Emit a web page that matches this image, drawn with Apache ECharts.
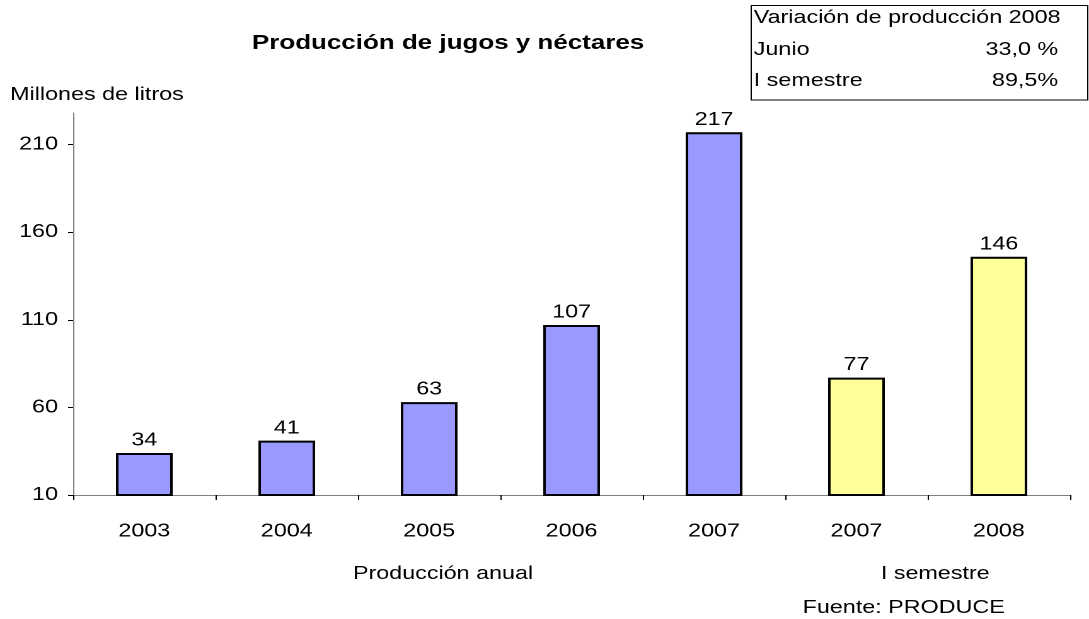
<!DOCTYPE html>
<html><head><meta charset="utf-8">
<script src="https://cdn.jsdelivr.net/npm/echarts@6/dist/echarts.min.js"></script>
<style>
html,body{margin:0;padding:0;background:#fff;overflow:hidden}
#c{width:864px;height:619px;transform:scaleX(1.2604167);transform-origin:0 0}
</style>
</head><body><div id="c"></div>
<script>
const categories = ['2003','2004','2005','2006','2007','2007','2008'];
const values = [34, 41, 63, 107, 217, 77, 146];
const groups = ['anual','anual','anual','anual','anual','semestre','semestre'];
const yTicks = [10, 60, 110, 160, 210];
const boxRows = [['Variación de producción 2008',''],['Junio','33,0 %'],['I semestre','89,5%']];

const FONT = '"Liberation Sans", Arial, sans-serif';
const FS = 18.5;
const colorFor = g => g === 'anual' ? '#9999FF' : '#FFFF99';

const chart = echarts.init(document.getElementById('c'), null, {renderer:'canvas', devicePixelRatio:2});
const graphics = [
  {type:'rect', shape:{x:596,y:5.5,width:267,height:94.5}, style:{fill:'#fff',stroke:'#000',lineWidth:1}, z:10}
];
const rowY = [18, 50, 81];
boxRows.forEach((r,i)=>{
  graphics.push({type:'text', x:598, y:rowY[i], style:{text:r[0], font:FS+'px '+FONT, fill:'#000', textVerticalAlign:'middle'}, z:11});
  if (r[1]) graphics.push({type:'text', x:839.5, y:rowY[i], style:{text:r[1], font:FS+'px '+FONT, fill:'#000', textAlign:'right', textVerticalAlign:'middle'}, z:11});
});
graphics.push({type:'text', x:351.5, y:574, style:{text:'Producción anual', font:FS+'px '+FONT, fill:'#000', textAlign:'center', textVerticalAlign:'middle'}});
graphics.push({type:'text', x:742, y:574, style:{text:'I semestre', font:FS+'px '+FONT, fill:'#000', textAlign:'center', textVerticalAlign:'middle'}});
graphics.push({type:'text', x:717, y:608, style:{text:'Fuente: PRODUCE', font:FS+'px '+FONT, fill:'#000', textAlign:'center', textVerticalAlign:'middle'}});
graphics.push({type:'text', x:8, y:95, style:{text:'Millones de litros', font:FS+'px '+FONT, fill:'#000', textVerticalAlign:'middle'}});

chart.setOption({
  animation:false,
  title:{text:'Producción de jugos y néctares', left:350.5, textAlign:'center', top:28,
    textStyle:{fontFamily:FONT, fontSize:20.6, fontWeight:'bold', color:'#000'}},
  grid:{left:58, right:15, top:113, bottom:124},
  xAxis:{type:'category', data:categories,
    axisLine:{lineStyle:{color:'#808080', width:1}},
    axisTick:{show:true, alignWithLabel:false, length:5, lineStyle:{color:'#000'}},
    axisLabel:{fontFamily:FONT, fontSize:FS, color:'#000', margin:27}},
  yAxis:{type:'value', min:10, max:228,
    axisLine:{show:true, lineStyle:{color:'#808080', width:1}},
    axisTick:{show:true, length:4, lineStyle:{color:'#000'}, customValues:yTicks},
    axisLabel:{fontFamily:FONT, fontSize:FS, color:'#000', margin:12, customValues:yTicks},
    splitLine:{show:false}},
  series:[{type:'bar', barWidth:45,
    data: values.map((v,i)=>({value:v, itemStyle:{color:colorFor(groups[i])}})),
    itemStyle:{borderColor:'#000', borderWidth:2},
    label:{show:true, position:'top', distance:3, fontFamily:FONT, fontSize:FS, color:'#000'}}],
  graphic: graphics
});
</script></body></html>
